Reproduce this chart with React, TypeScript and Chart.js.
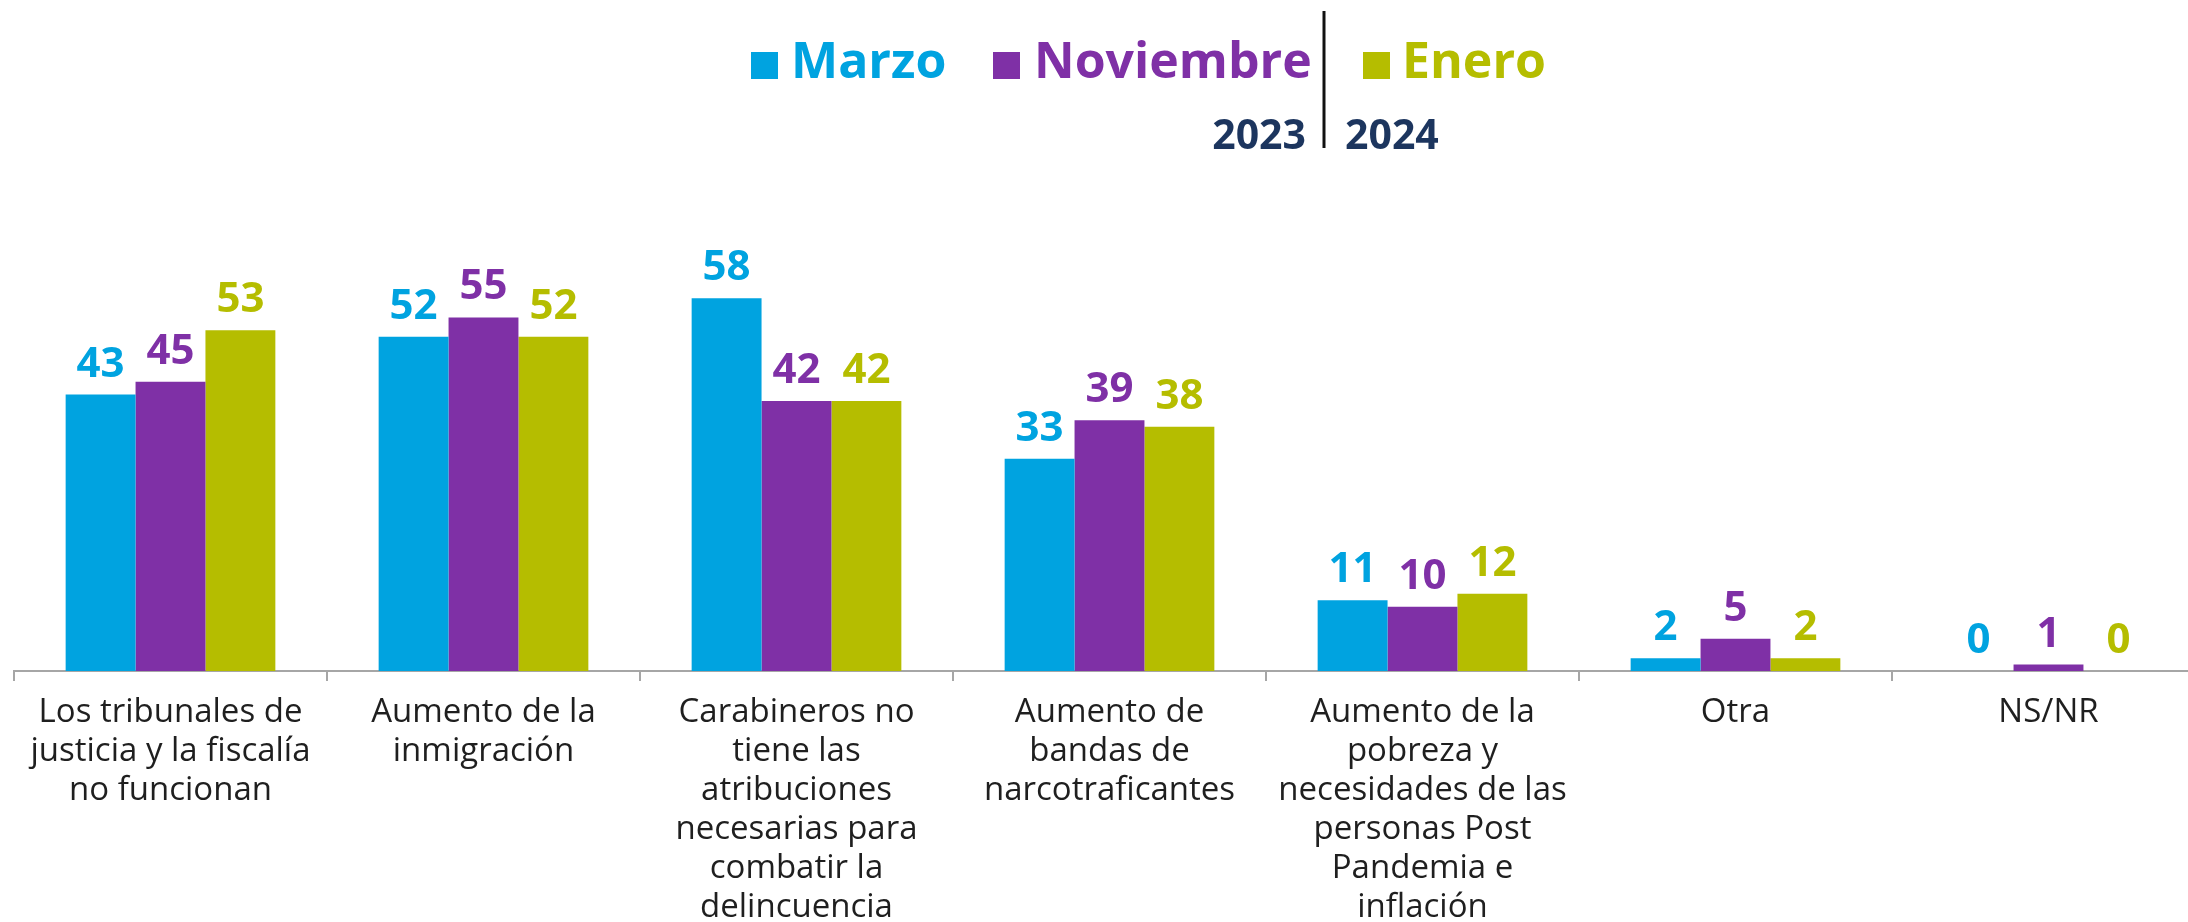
import React, { useEffect, useRef } from "react";
import { Chart, registerables } from "chart.js";

Chart.register(...registerables);

const categories: string[][] = [
  ["Los tribunales de", "justicia y la fiscalía", "no funcionan"],
  ["Aumento de la", "inmigración"],
  ["Carabineros no", "tiene las", "atribuciones", "necesarias para", "combatir la", "delincuencia"],
  ["Aumento de", "bandas de", "narcotraficantes"],
  ["Aumento de la", "pobreza y", "necesidades de las", "personas Post", "Pandemia e", "inflación"],
  ["Otra"],
  ["NS/NR"],
];

const seriesNames = ["Marzo", "Noviembre", "Enero"];
const marzo = [43, 52, 58, 33, 11, 2, 0];
const noviembre = [45, 55, 42, 39, 10, 5, 1];
const enero = [53, 52, 42, 38, 12, 2, 0];
const yearLabels = ["2023", "2024"];

const colors = ["#00A3E0", "#7F30A6", "#B5BD00"];
const yearColor = "#1C355E";
const FONT = "'Open Sans', 'Noto Sans', sans-serif";

export default function App() {
  const ref = useRef<HTMLCanvasElement | null>(null);

  useEffect(() => {
    if (!ref.current) return;

    const valueLabels = {
      id: "valueLabels",
      afterDatasetsDraw(chart: any) {
        const ctx = chart.ctx;
        ctx.save();
        ctx.font = `700 42px ${FONT}`;
        ctx.textAlign = "center";
        ctx.textBaseline = "alphabetic";
        chart.data.datasets.forEach((ds: any, i: number) => {
          const meta = chart.getDatasetMeta(i);
          meta.data.forEach((bar: any, j: number) => {
            ctx.fillStyle = colors[i];
            ctx.fillText(String(ds.data[j]), bar.x, bar.y - 18);
          });
        });
        ctx.restore();
      },
    };

    const customLegend = {
      id: "customLegend",
      afterDraw(chart: any) {
        const ctx = chart.ctx;
        ctx.save();
        const items = [
          { sq: 751, tx: 791 },
          { sq: 993, tx: 1034 },
          { sq: 1363, tx: 1402 },
        ];
        ctx.font = `700 50px ${FONT}`;
        ctx.textBaseline = "middle";
        ctx.textAlign = "left";
        items.forEach((it, i) => {
          ctx.fillStyle = colors[i];
          ctx.fillRect(it.sq, 52, 27, 27);
          ctx.fillText(seriesNames[i], it.tx, 64);
        });
        // separator
        ctx.strokeStyle = "#111111";
        ctx.lineWidth = 3;
        ctx.beginPath();
        ctx.moveTo(1324, 11);
        ctx.lineTo(1324, 148);
        ctx.stroke();
        // years
        ctx.fillStyle = yearColor;
        ctx.font = `700 41px ${FONT}`;
        ctx.textAlign = "right";
        ctx.fillText(yearLabels[0], 1306, 137);
        ctx.textAlign = "left";
        ctx.fillText(yearLabels[1], 1345, 137);
        ctx.restore();
      },
    };

    const chart = new Chart(ref.current, {
      type: "bar",
      data: {
        labels: categories,
        datasets: [
          { label: seriesNames[0], data: marzo, backgroundColor: colors[0] },
          { label: seriesNames[1], data: noviembre, backgroundColor: colors[1] },
          { label: seriesNames[2], data: enero, backgroundColor: colors[2] },
        ].map((d) => ({ ...d, barPercentage: 1, categoryPercentage: 0.67, borderWidth: 0 })),
      },
      options: {
        responsive: false,
        animation: false,
        layout: { padding: { left: 14, right: 15, top: 221, bottom: 0 } },
        plugins: {
          legend: { display: false },
          tooltip: { enabled: false },
        },
        scales: {
          x: {
            offset: true,
            grid: {
              offset: true,
              drawOnChartArea: false,
              drawTicks: true,
              tickLength: 10,
              color: "#A6A6A6",
              lineWidth: 2,
            },
            border: { display: true, color: "#A6A6A6", width: 2 },
            ticks: {
              color: "#1F1F1F",
              font: { family: FONT, size: 33, lineHeight: 1.18 },
              padding: 12,
              maxRotation: 0,
              minRotation: 0,
              autoSkip: false,
            },
            afterFit(scale: any) {
              scale.height = 251;
            },
          },
          y: { display: false, min: 0, max: 70 },
        },
      },
      plugins: [valueLabels, customLegend],
    } as any);

    return () => chart.destroy();
  }, []);

  return (
    <div
      style={{
        position: "fixed",
        left: 0,
        top: 0,
        width: 2188,
        height: 922,
        overflow: "hidden",
        background: "#ffffff",
      }}
    >
      <canvas ref={ref} width={2220} height={922} style={{ display: "block" }} />
    </div>
  );
}
